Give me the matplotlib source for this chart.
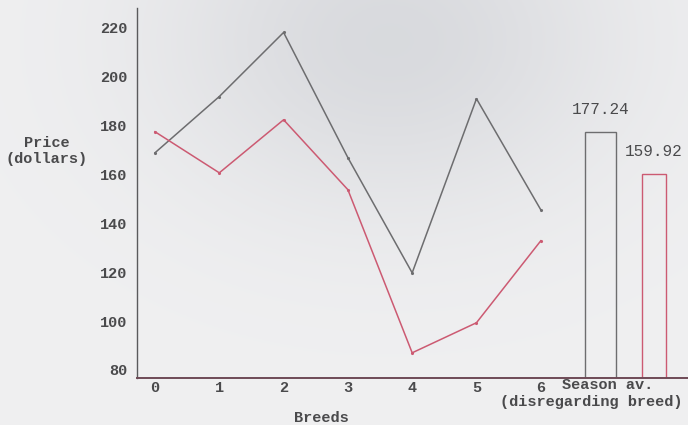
import numpy as np
import matplotlib.pyplot as plt

# prices by breed
breeds = [0, 1, 2, 3, 4, 5, 6]
grey_prices = [168.8, 191.8, 218.0, 166.8, 119.7, 190.9, 145.5]
red_prices = [177.4, 160.6, 182.3, 153.7, 87.0, 99.3, 132.8]
season_avgs = [177.24, 159.92]
season_labels = ["177.24", "159.92"]

grey = "#6d6d6f"
red = "#cc5a72"
ink = "#4a4a4c"
mono = "Liberation Mono"

fig = plt.figure(figsize=(6.88, 4.25), dpi=100, facecolor="#eeeeef")

# soft shadow of the scan near the top middle
bg = fig.add_axes([0, 0, 1, 1], zorder=-1)
gx, gy = np.meshgrid(np.linspace(0, 688, 344), np.linspace(0, 425, 213))
shade = np.exp(-(((gx - 390) / 230) ** 2 + ((gy - 40) / 170) ** 2))
img = np.ones((213, 344, 3)) * np.array([0.94, 0.94, 0.945])
img -= shade[..., None] * np.array([0.09, 0.085, 0.075])
bg.imshow(img, extent=[0, 688, 425, 0], aspect="auto")
bg.axis("off")

ax = fig.add_axes([137 / 688, 1 - 378 / 425, 1 - 137 / 688, (378 - 8) / 425])
ax.set_facecolor("none")

ax.plot(breeds, grey_prices, color=grey, lw=1.1, marker=".", ms=2.5)
ax.plot(breeds, red_prices, color=red, lw=1.1, marker=".", ms=2.5)

bar_x = [6.93, 7.76]
bar_w = [0.48, 0.37]
for x, w, v, c, lab in zip(bar_x, bar_w, season_avgs, [grey, red], season_labels):
    ax.bar(x, v - 76.7, width=w, bottom=76.7, fill=False, edgecolor=c, lw=1.0)
    ax.annotate(lab, (x, v), xytext=(0, 11), textcoords="offset points",
                ha="center", va="bottom", fontsize=11.5, family=mono, color=ink)

ax.set_xlim(-0.28, 8.29)
ax.set_ylim(76.7, 228)
ax.set_yticks(np.arange(80, 221, 20))
ax.set_xticks(breeds)
ax.tick_params(length=0, labelsize=11, labelcolor=ink)
ax.tick_params(axis="y", pad=7)
ax.tick_params(axis="x", pad=2)
for t in ax.get_xticklabels() + ax.get_yticklabels():
    t.set_family(mono)
    t.set_fontweight("bold")

for s in ["top", "right"]:
    ax.spines[s].set_visible(False)
ax.spines["left"].set_color("#5a5a5c")
ax.spines["left"].set_linewidth(1.0)
ax.spines["bottom"].set_color("#6e4a56")
ax.spines["bottom"].set_linewidth(1.4)

fig.text(608 / 688, 1 - 385 / 425, "Season av.", ha="center", va="center",
         fontsize=11, family=mono, fontweight="bold", color=ink)
fig.text(591 / 688, 1 - 402 / 425, "(disregarding breed)", ha="center", va="center",
         fontsize=11, family=mono, fontweight="bold", color=ink)
fig.text(47 / 688, 1 - 151 / 425, "Price\n(dollars)", ha="center", va="center",
         fontsize=11, family=mono, fontweight="bold", color=ink, linespacing=1.15)
fig.text(321 / 688, 1 - 418 / 425, "Breeds", ha="center", va="center",
         fontsize=11, family=mono, fontweight="bold", color=ink)

fig.savefig("out.png", dpi=100, facecolor=fig.get_facecolor())
